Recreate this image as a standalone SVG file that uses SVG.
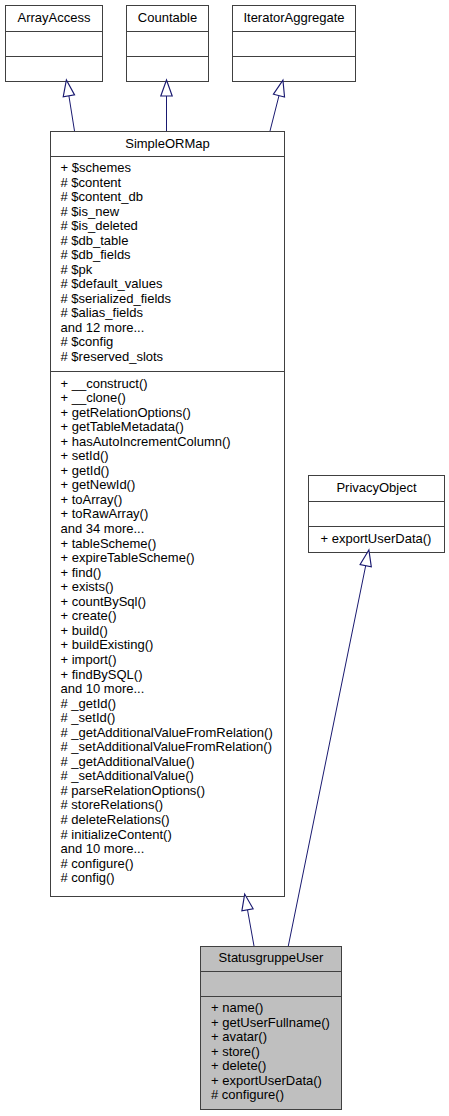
<svg xmlns="http://www.w3.org/2000/svg" width="449" height="1116" viewBox="0 0 449 1116">
<style>
.box{fill:#ffffff;stroke:#404040;stroke-width:1}
.cur{fill:#bfbfbf;stroke:#404040;stroke-width:1}
.sep{stroke:#404040;stroke-width:1}
text{font-family:"Liberation Sans",Arial,sans-serif;font-size:13px;fill:#000000}
.hd{text-anchor:middle}
.edge{stroke:#191970;stroke-width:1;fill:none;marker-end:url(#tri)}
</style>
<defs>
<marker id="tri" markerUnits="userSpaceOnUse" markerWidth="16" markerHeight="12" viewBox="0 0 14 10" refX="0" refY="5" orient="auto" overflow="visible">
<path d="M0,0 L14,5 L0,10 Z" fill="#ffffff" stroke="#191970" stroke-width="1"/>
</marker>
</defs>
<rect width="449" height="1116" fill="#ffffff"/>

<g id="ArrayAccess">
<rect class="box" x="5.5" y="5.5" width="97" height="76"/>
<line class="sep" x1="5.5" y1="31.5" x2="102.5" y2="31.5"/>
<line class="sep" x1="5.5" y1="56.5" x2="102.5" y2="56.5"/>
<text class="hd" x="54" y="22">ArrayAccess</text>
</g>

<g id="Countable">
<rect class="box" x="126.5" y="5.5" width="82" height="76"/>
<line class="sep" x1="126.5" y1="31.5" x2="208.5" y2="31.5"/>
<line class="sep" x1="126.5" y1="56.5" x2="208.5" y2="56.5"/>
<text class="hd" x="167.5" y="22">Countable</text>
</g>

<g id="IteratorAggregate">
<rect class="box" x="232.5" y="5.5" width="123" height="76"/>
<line class="sep" x1="232.5" y1="31.5" x2="355.5" y2="31.5"/>
<line class="sep" x1="232.5" y1="56.5" x2="355.5" y2="56.5"/>
<text class="hd" x="294" y="22">IteratorAggregate</text>
</g>

<g id="SimpleORMap">
<rect class="box" x="50.5" y="131.5" width="234" height="765"/>
<line class="sep" x1="50.5" y1="156.5" x2="284.5" y2="156.5"/>
<line class="sep" x1="50.5" y1="371.5" x2="284.5" y2="371.5"/>
<text class="hd" x="167.5" y="147.5">SimpleORMap</text>
<text x="60.5" y="172">
<tspan x="60.5" dy="0">+ $schemes</tspan>
<tspan x="60.5" dy="14.54"># $content</tspan>
<tspan x="60.5" dy="14.54"># $content_db</tspan>
<tspan x="60.5" dy="14.54"># $is_new</tspan>
<tspan x="60.5" dy="14.54"># $is_deleted</tspan>
<tspan x="60.5" dy="14.54"># $db_table</tspan>
<tspan x="60.5" dy="14.54"># $db_fields</tspan>
<tspan x="60.5" dy="14.54"># $pk</tspan>
<tspan x="60.5" dy="14.54"># $default_values</tspan>
<tspan x="60.5" dy="14.54"># $serialized_fields</tspan>
<tspan x="60.5" dy="14.54"># $alias_fields</tspan>
<tspan x="60.5" dy="14.54">and 12 more...</tspan>
<tspan x="60.5" dy="14.54"># $config</tspan>
<tspan x="60.5" dy="14.54"># $reserved_slots</tspan>
</text>
<text x="60.5" y="387.5">
<tspan x="60.5" dy="0">+ __construct()</tspan>
<tspan x="60.5" dy="14.55">+ __clone()</tspan>
<tspan x="60.5" dy="14.55">+ getRelationOptions()</tspan>
<tspan x="60.5" dy="14.55">+ getTableMetadata()</tspan>
<tspan x="60.5" dy="14.55">+ hasAutoIncrementColumn()</tspan>
<tspan x="60.5" dy="14.55">+ setId()</tspan>
<tspan x="60.5" dy="14.55">+ getId()</tspan>
<tspan x="60.5" dy="14.55">+ getNewId()</tspan>
<tspan x="60.5" dy="14.55">+ toArray()</tspan>
<tspan x="60.5" dy="14.55">+ toRawArray()</tspan>
<tspan x="60.5" dy="14.55">and 34 more...</tspan>
<tspan x="60.5" dy="14.55">+ tableScheme()</tspan>
<tspan x="60.5" dy="14.55">+ expireTableScheme()</tspan>
<tspan x="60.5" dy="14.55">+ find()</tspan>
<tspan x="60.5" dy="14.55">+ exists()</tspan>
<tspan x="60.5" dy="14.55">+ countBySql()</tspan>
<tspan x="60.5" dy="14.55">+ create()</tspan>
<tspan x="60.5" dy="14.55">+ build()</tspan>
<tspan x="60.5" dy="14.55">+ buildExisting()</tspan>
<tspan x="60.5" dy="14.55">+ import()</tspan>
<tspan x="60.5" dy="14.55">+ findBySQL()</tspan>
<tspan x="60.5" dy="14.55">and 10 more...</tspan>
<tspan x="60.5" dy="14.55"># _getId()</tspan>
<tspan x="60.5" dy="14.55"># _setId()</tspan>
<tspan x="60.5" dy="14.55"># _getAdditionalValueFromRelation()</tspan>
<tspan x="60.5" dy="14.55"># _setAdditionalValueFromRelation()</tspan>
<tspan x="60.5" dy="14.55"># _getAdditionalValue()</tspan>
<tspan x="60.5" dy="14.55"># _setAdditionalValue()</tspan>
<tspan x="60.5" dy="14.55"># parseRelationOptions()</tspan>
<tspan x="60.5" dy="14.55"># storeRelations()</tspan>
<tspan x="60.5" dy="14.55"># deleteRelations()</tspan>
<tspan x="60.5" dy="14.55"># initializeContent()</tspan>
<tspan x="60.5" dy="14.55">and 10 more...</tspan>
<tspan x="60.5" dy="14.55"># configure()</tspan>
<tspan x="60.5" dy="14.55"># config()</tspan>
</text>
</g>

<g id="PrivacyObject">
<rect class="box" x="308.5" y="475.5" width="136" height="77"/>
<line class="sep" x1="308.5" y1="501.5" x2="444.5" y2="501.5"/>
<line class="sep" x1="308.5" y1="526.5" x2="444.5" y2="526.5"/>
<text class="hd" x="376.5" y="491.5">PrivacyObject</text>
<text x="320.5" y="542.5">+ exportUserData()</text>
</g>

<g id="StatusgruppeUser">
<rect class="cur" x="200.5" y="946.5" width="141" height="163"/>
<line class="sep" x1="200.5" y1="971.5" x2="341.5" y2="971.5"/>
<line class="sep" x1="200.5" y1="996.5" x2="341.5" y2="996.5"/>
<text class="hd" x="271" y="962">StatusgruppeUser</text>
<text x="211" y="1012">
<tspan x="211" dy="0">+ name()</tspan>
<tspan x="211" dy="14.55">+ getUserFullname()</tspan>
<tspan x="211" dy="14.55">+ avatar()</tspan>
<tspan x="211" dy="14.55">+ store()</tspan>
<tspan x="211" dy="14.55">+ delete()</tspan>
<tspan x="211" dy="14.55">+ exportUserData()</tspan>
<tspan x="211" dy="14.55"># configure()</tspan>
</text>
</g>

<g id="connectors">
<line class="edge" x1="74.5" y1="131" x2="68.9" y2="95.8"/>
<line class="edge" x1="166.5" y1="131" x2="166.5" y2="96"/>
<line class="edge" x1="270" y1="131" x2="279" y2="95.6"/>
<line class="edge" x1="254" y1="946" x2="247.5" y2="909.8"/>
<line class="edge" x1="288.3" y1="946" x2="365.7" y2="565.7"/>
</g>
</svg>
